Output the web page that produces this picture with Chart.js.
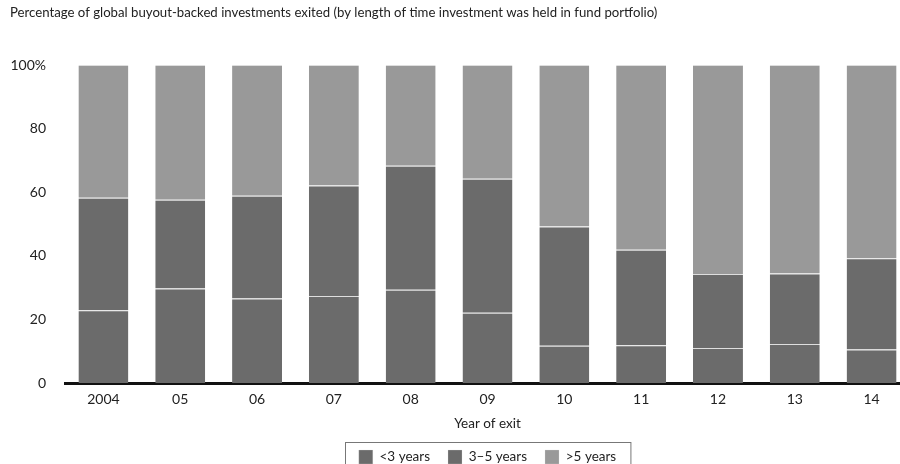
<!DOCTYPE html>
<html>
<head>
<meta charset="utf-8">
<script src="https://cdn.jsdelivr.net/npm/chart.js@4.4.1/dist/chart.umd.min.js"></script>
<style>
  html, body { margin: 0; padding: 0; overflow: hidden; background: #fff; }
  #wrap { width: 900px; height: 464px; overflow: hidden; }
</style>
</head>
<body>
<div id="wrap"><canvas id="exits" width="912" height="474"></canvas></div>
<script>
// years of exit
const years = ['2004', '05', '06', '07', '08', '09', '10', '11', '12', '13', '14'];
// share of exits by holding period, %
const under3 = [22.9, 29.7, 26.6, 27.4, 29.3, 22.1, 11.7, 11.9, 11.0, 12.3, 10.5];
const from3to5 = [35.4, 27.9, 32.3, 34.7, 39.0, 42.1, 37.5, 30.0, 23.3, 22.1, 28.7];
const over5 = [41.7, 42.4, 41.1, 37.9, 31.7, 35.8, 50.8, 58.1, 65.7, 65.6, 60.8];
const yTicks = [0, 20, 40, 60, 80, 100];

const dark = '#6b6b6b';
const light = '#999999';
const font = 'Lato, "Liberation Sans", sans-serif';

// frame round the legend, like in the print version
const legendFrame = {
  id: 'legendFrame',
  afterDraw(chart) {
    const boxes = chart.legend.legendHitBoxes;
    if (!boxes || !boxes.length) return;
    const first = boxes[0];
    const last = boxes[boxes.length - 1];
    const ctx = chart.ctx;
    ctx.save();
    ctx.strokeStyle = '#777';
    ctx.lineWidth = 1;
    ctx.strokeRect(Math.round(first.left - 14) + 0.5, Math.round(first.top - 8) + 0.5,
      (last.left + last.width + 14) - (first.left - 14), first.height + 30);
    ctx.restore();
  }
};

const ctx = document.getElementById('exits').getContext('2d');
const chart = new Chart(ctx, {
  type: 'bar',
  data: {
    labels: years,
    datasets: [
      { label: '<3 years', data: under3, backgroundColor: dark },
      { label: '3\u20135 years', data: from3to5, backgroundColor: dark },
      { label: '>5 years', data: over5, backgroundColor: light }
    ]
  },
  options: {
    responsive: false,
    animation: false,
    layout: { padding: { left: 10, right: 2, top: 0, bottom: 0 } },
    datasets: {
      bar: {
        barPercentage: 0.65,
        categoryPercentage: 1,
        borderColor: '#dedede',
        borderWidth: { top: 1, left: 0, right: 0, bottom: 0 },
        borderSkipped: false
      }
    },
    scales: {
      x: {
        stacked: true,
        grid: { display: false },
        border: { display: true, color: '#111', width: 3 },
        ticks: { color: '#222', font: { family: font, size: 14 }, padding: 0, maxRotation: 0, autoSkip: false },
        title: { display: true, text: 'Year of exit', color: '#222', font: { family: font, size: 13.5 }, padding: { top: 8, bottom: 0 } }
      },
      y: {
        stacked: true,
        min: 0,
        max: 100,
        grid: { display: false, drawTicks: false },
        border: { display: false },
        afterFit: function(scale) { scale.width = 55; },
        afterBuildTicks: function(scale) { scale.ticks = yTicks.map(v => ({ value: v })); },
        ticks: {
          color: '#222',
          padding: 19,
          font: { family: font, size: 14 },
          callback: function(value) { return value === 100 ? '100%' : value; }
        }
      }
    },
    plugins: {
      title: {
        display: true,
        text: 'Percentage of global buyout-backed investments exited (by length of time investment was held in fund portfolio)',
        align: 'start',
        color: '#222',
        font: { family: font, size: 13.2, weight: 'normal' },
        padding: { top: 5, bottom: 44.2 }
      },
      legend: {
        position: 'bottom',
        fullSize: false,
        labels: {
          color: '#222',
          font: { family: font, size: 13.5 },
          boxWidth: 14,
          boxHeight: 14,
          padding: 18
        }
      },
      tooltip: {
        callbacks: {
          label: function(item) { return item.dataset.label + ': ' + item.raw + '%'; }
        }
      }
    }
  },
  plugins: [legendFrame]
});
</script>
</body>
</html>
